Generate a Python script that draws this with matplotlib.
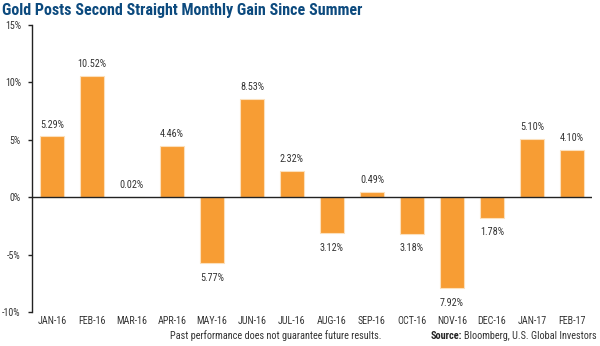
import matplotlib
matplotlib.use("Agg")
import matplotlib.pyplot as plt
from matplotlib import font_manager
from matplotlib.font_manager import FontProperties

months = ["JAN-16", "FEB-16", "MAR-16", "APR-16", "MAY-16", "JUN-16", "JUL-16",
          "AUG-16", "SEP-16", "OCT-16", "NOV-16", "DEC-16", "JAN-17", "FEB-17"]
gains = [5.29, 10.52, 0.02, 4.46, -5.77, 8.53, 2.32,
         -3.12, 0.49, -3.18, -7.92, -1.78, 5.10, 4.10]
yticks = [-10, -5, 0, 5, 10, 15]
ytick_labels = ["-10%", "-5%", "0%", "5%", "10%", "15%"]

names = {f.name for f in font_manager.fontManager.ttflist}
if "Liberation Sans Narrow" in names:
    fam, stretch = "Liberation Sans Narrow", "normal"
elif "Roboto Condensed" in names:
    fam, stretch = "Roboto Condensed", "normal"
else:
    fam, stretch = "DejaVu Sans", "condensed"


def fp(size, weight="normal"):
    return FontProperties(family=fam, stretch=stretch, weight=weight, size=size)


fig = plt.figure(figsize=(6, 3.46), dpi=100)
renderer = fig.canvas.get_renderer()


def fit_size(text, target_px, weight="normal"):
    t = fig.text(0, 0, text, fontproperties=fp(10, weight))
    w = t.get_window_extent(renderer).width
    t.remove()
    return 10 * target_px / w


lab_size = min(fit_size("10.52%", 29), 8.0)
tick_size = min(fit_size("JAN-16", 29), 8.0)
title_size = fit_size("Gold Posts Second Straight Monthly Gain Since Summer", 359, "bold")
foot_size = min(fit_size("Past performance does not guarantee future results.", 212), 8.0)

ax = fig.add_axes([32/600, 1-312/346, 560/600, (312-25)/346])

x = list(range(len(months)))
ax.bar(x, gains, width=0.6, color="#F79D34", edgecolor="#FCE0BC", linewidth=0.8, zorder=2)
ax.axhline(0, color="#222222", linewidth=1.0, zorder=3)

for xi, v in zip(x, gains):
    if v >= 0:
        ax.annotate(f"{abs(v):.2f}%", (xi, v), xytext=(0, 5), textcoords="offset points",
                    ha="center", va="bottom", fontproperties=fp(lab_size), color="#333333")
    else:
        ax.annotate(f"{abs(v):.2f}%", (xi, v), xytext=(0, -7), textcoords="offset points",
                    ha="center", va="top", fontproperties=fp(lab_size), color="#333333")

ax.set_xlim(-0.5, len(months) - 0.5)
ax.set_ylim(-10, 15)
ax.set_yticks(yticks)
ax.set_yticklabels(ytick_labels)
ax.set_xticks(x)
ax.set_xticklabels(months)
for lbl in ax.get_yticklabels():
    lbl.set_fontproperties(fp(tick_size))
    lbl.set_color("#333333")
for lbl in ax.get_xticklabels():
    lbl.set_fontproperties(fp(tick_size))
    lbl.set_color("#333333")
ax.tick_params(axis="x", length=0, pad=3)
ax.tick_params(axis="y", length=3, width=1, color="#222222", pad=5)

for s in ["top", "right", "bottom"]:
    ax.spines[s].set_visible(False)
ax.spines["left"].set_color("#222222")
ax.spines["left"].set_linewidth(1.0)

fig.text(0.004, 0.99, "Gold Posts Second Straight Monthly Gain Since Summer",
         fontproperties=fp(title_size, "bold"), color="#0C4A7E", ha="left", va="top")
fig.text(276/600, 0.029, "Past performance does not guarantee future results.",
         fontproperties=fp(foot_size), color="#333333", ha="center", va="center")
t1 = fig.text(597/600, 0.029, "Bloomberg, U.S. Global Investors",
              fontproperties=fp(foot_size), color="#333333", ha="right", va="center")
bb = t1.get_window_extent(renderer)
fig.text(bb.x0 / fig.bbox.width - 0.004, 0.029, "Source:", fontproperties=fp(foot_size, "bold"),
         color="#222222", ha="right", va="center")

fig.savefig("out.png", dpi=100)
